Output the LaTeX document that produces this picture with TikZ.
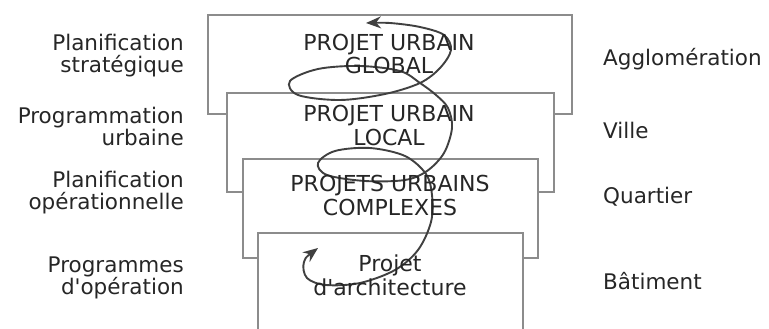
\documentclass[tikz,border=0pt]{standalone}
\usepackage{fontspec}
\setmainfont{DejaVu Sans}[Ligatures=TeXOff]
\usetikzlibrary{arrows.meta}
\definecolor{boxgray}{HTML}{8C8C8C}
\definecolor{inkgray}{HTML}{262626}
\definecolor{curvegray}{HTML}{404040}
\tikzset{
  levelbox/.style={draw=boxgray, line width=1.3pt, fill=white},
  boxtext/.style={inner sep=0pt, anchor=base, align=center, text=inkgray,
    font=\fontsize{22}{23.5}\selectfont},
  lefttext/.style={inner sep=0pt, anchor=base east, align=right, text=inkgray,
    font=\fontsize{21.5}{22}\selectfont},
  righttext/.style={inner sep=0pt, anchor=base west, text=inkgray,
    font=\fontsize{21.5}{22}\selectfont},
  spiral/.style={draw=curvegray, line width=1.9pt,
    {Stealth[length=15pt,width=12pt]}-{Stealth[length=15pt,width=12pt]}}
}
\begin{document}
\begin{tikzpicture}[x=1pt,y=-1pt]
\useasboundingbox (0,0) rectangle (769,329);
% boxes
\path[levelbox] (208,15) rectangle (572,114);
\path[levelbox] (227,93) rectangle (554,192);
\path[levelbox] (243,159) rectangle (538,258);
\fill[white] (258,233) rectangle (523,331);
\draw[draw=boxgray, line width=1.3pt] (258,331) -- (258,233) -- (523,233) -- (523,331);
% spiral
\coordinate (sstart) at (318,248);
\coordinate (send) at (366,23);
\draw[spiral] plot[smooth, tension=0.55] coordinates {
 (sstart) (304,262) (307,278) (326,285) (360,283) (395,270) (418,250)
 (431,222) (432,195) (426,174) (405,156) (370,148) (335,151) (318,163)
 (327,175) (365,181) (405,180) (427,171) (444,153) (452,128) (448,108)
 (436,95) (420,83) (400,71) (360,66) (318,69) (290,81) (298,95)
 (340,100) (385,94) (420,83) (440,68) (451,50) (444,35) (420,27)
 (390,23) (send)};
% box texts (anchor base = last line)
\node[boxtext] (global) at (389,74) {PROJET URBAIN\\GLOBAL};
\node[boxtext] (local) at (389,145) {PROJET URBAIN\\LOCAL};
\node[boxtext] (complexes) at (390,215) {PROJETS URBAINS\\COMPLEXES};
\node[boxtext] (archi) at (390,295) {Projet\\d'architecture};
% left labels
\node[lefttext] (l1) at (184,73) {Planification\\stratégique};
\node[lefttext] (l2) at (184,145) {Programmation\\urbaine};
\node[lefttext] (l3) at (184,209) {Planification\\opérationnelle};
\node[lefttext] (l4) at (184,294) {Programmes\\d'opération};
% right labels
\node[righttext] (r1) at (603,66) {Agglomération};
\node[righttext] (r2) at (603,138) {Ville};
\node[righttext] (r3) at (603,203) {Quartier};
\node[righttext] (r4) at (603,289) {Bâtiment};
\end{tikzpicture}
\end{document}
